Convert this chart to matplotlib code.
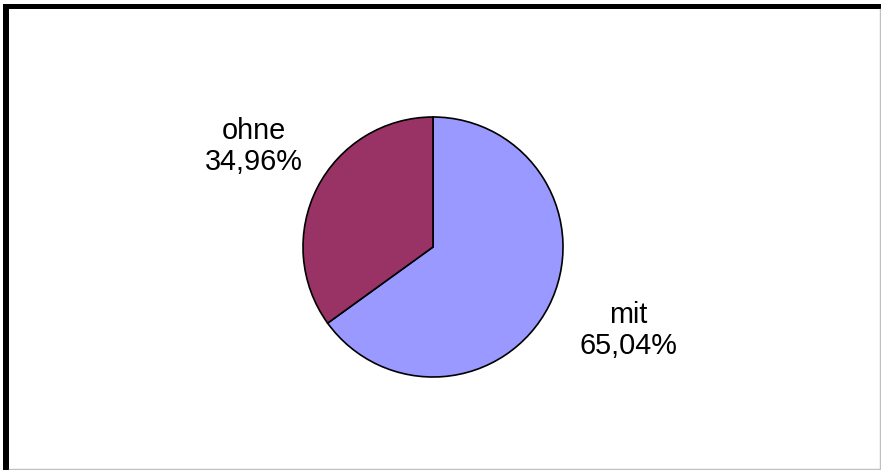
import matplotlib.pyplot as plt
from matplotlib.patches import Rectangle
from matplotlib.lines import Line2D

labels = ['mit', 'ohne']
shares = [65.04, 34.96]
colors = ['#9999FF', '#993366']

plt.rcParams['font.family'] = ['Liberation Sans', 'DejaVu Sans']

W, H = 881, 470
fig = plt.figure(figsize=(W / 100, H / 100), dpi=100)
fig.patch.set_facecolor('white')

# pie axes: centre (433, 247) px, radius 130 px
ax = fig.add_axes([303 / W, (H - 377) / H, 260 / W, 260 / H])
ax.pie(shares, colors=colors, startangle=90, counterclock=False,
       radius=1.0, wedgeprops={'edgecolor': 'black', 'linewidth': 1.2})
ax.set_xlim(-1, 1)
ax.set_ylim(-1, 1)
ax.set_aspect('equal')
ax.axis('off')

def fmt(v):
    return ('%.2f%%' % v).replace('.', ',')

label_pos = {'mit': (1.504, -0.645), 'ohne': (-1.381, 0.775)}
for lab, v in zip(labels, shares):
    x, y = label_pos[lab]
    ax.text(x, y, lab + '\n' + fmt(v), ha='center', va='center',
            fontsize=20.8, linespacing=1.15, clip_on=False)

# frame: thick black top/left, thin grey right/bottom
fig.patches.append(Rectangle((3 / W, 0), 6 / W, (H - 4) / H, transform=fig.transFigure,
                             facecolor='black', edgecolor='none'))
fig.patches.append(Rectangle((3 / W, (H - 9) / H), (W - 3) / W, 5 / H, transform=fig.transFigure,
                             facecolor='black', edgecolor='none'))
fig.lines.append(Line2D([880 / W, 880 / W], [0, (H - 9) / H], transform=fig.transFigure,
                        color='#c0c0c0', linewidth=1))
fig.lines.append(Line2D([9 / W, 880 / W], [1.5 / H, 1.5 / H], transform=fig.transFigure,
                        color='#c0c0c0', linewidth=1))

fig.savefig('out.png', dpi=100)
